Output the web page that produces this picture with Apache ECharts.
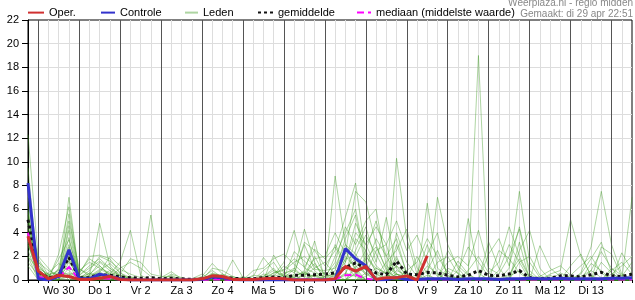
<!DOCTYPE html>
<html><head><meta charset="utf-8">
<script src="https://cdn.jsdelivr.net/npm/echarts@6/dist/echarts.min.js"></script>
<style>html,body{margin:0;padding:0;background:#fff}#c{width:635px;height:300px}</style>
</head><body><div id="c"></div>
<script>
// 6-hourly steps from di 29 apr 18:00 (index 0) to wo 14 mei 12:00 (index 59)
const dayLabels = ['Wo 30','Do 1','Vr 2','Za 3','Zo 4','Ma 5','Di 6','Wo 7','Do 8','Vr 9','Za 10','Zo 11','Ma 12','Di 13'];
const stepCount = 60;

const oper = [3.7,0.75,0.1,0.4,0.3,0.05,0.05,0.15,0.3,0.05, 0,0,0,0,0,0,0, 0.1,0.35,0.3,0.05, 0.05,0.05,0.1,0.15,0.1, 0,0,0,0, 0.1,1.15,0.75,1.15,0.05,0.2,0.2,0.35,0,2.05];

const controle = [8.2,0.1,0,0.3,2.55,0.1,0.1,0.5,0.3,0.1, 0,0,0,0,0,0,0,0.05,0.25,0.2, 0.05,0,0,0,0,0,0,0,0,0, 0.05,2.65,1.8,1.2,0,0.05,0.2,0.05,0.05,0.1, 0.1,0.1,0.05,0.1,0.1,0.1,0.05,0.1,0.1,0.15, 0.1,0.1,0.15,0.1,0.1,0.1,0.1,0.15,0.15,0.2];

const gemiddelde = [5.1,0.7,0.15,0.4,1.9,0.2,0.2,0.45,0.4,0.25, 0.2,0.15,0.2,0.1,0.15,0.1,0.05,0.1,0.25,0.2, 0.15,0.1,0.1,0.2,0.25,0.2,0.4,0.4,0.45,0.5, 0.6,1.05,1.45,1.0,0.6,0.45,1.6,0.5,0.45,0.65, 0.6,0.4,0.25,0.4,0.8,0.4,0.35,0.5,0.8,0.2, 0.1,0.15,0.35,0.35,0.25,0.45,0.65,0.35,0.3,0.5];

const mediaan = [4.0,0.3,0.05,0.2,1.1,0.05,0.05,0.15,0.1,0.05, 0,0,0,0,0,0,0,0,0.05,0.05, 0,0,0,0,0,0,0.05,0.05,0.05,0.05, 0.05,0.4,0.45,0.1,0,0.1,0.2,0.05,0.05,0.05, 0.05,0.05,0.05,0.05,0.05,0.05,0.05,0.05,0.05,0.05, 0.05,0.05,0.05,0.05,0.05,0.05,0.05,0.05,0.05,0.05];

const leden = [
 [12.3,1.8,0.4,0.2,7.0,0.3,0.5,1.2,0.4,0.2,0,0,0, 0,0.2,0,0,0,0.5,0.3,0,0,0,0.2,0.6,0.8,1.5,2.0,1.2, 0.5,8.8,3.0,1.5,0.6,0.3,0,0.5,0.2,0,0.4,0, 0,0,0.5,19.0,0,0,0.3,0.8,0,0,0,0,0,0.3,0.8,0.2,0,0,0],
 [8.0,0.8,0.1,2.2,6.2,0.5,2.0,2.1,1.8,0.6,0.2,0,0, 0,0,0,0,0.3,1.4,0.5,0.2,0,0,0,0,0,0.5,3.2,2.5, 1.2,2.5,5.3,8.2,2.0,1.0,0.5,0,0,0.3,0,0, 2.5,1.2,0.4,0,0.6,1.5,4.5,2.0,0.3,0,0,0,0,0,0,0,0.5,1.2,2.0],
 [7.0,1.5,0.8,0.4,5.6,0.2,0.1,0.3,0.5,1.5,4.2,0.4,0, 0.2,0.7,0.1,0,0,0.3,0,0,0,0.3,1.9,0.8,0.3,0.4,0.6,1.8, 2.0,4.0,2.2,7.5,6.6,3.0,0.8,0.2,0,0,6.5,1.0, 0.3,0,0,0,0,0,1.0,7.5,1.5,0.2,0,0,0,0.6,2.8,7.5,3.0,0.5,0],
 [6.0,0.4,0,1.0,5.0,1.0,0.3,4.8,1.2,0.3,0.1,0,0, 0,0,0,0,0,1.0,0.8,0.3,0,0,0,0.4,1.5,4.2,1.0,0.6, 0.3,1.5,4.5,3.0,5.0,6.0,1.2,0.5,0.3,0,0,0, 0,0.8,2.8,1.5,0.3,0,0,0,0,0,0.5,0.8,5.1,2.0,0.4,0,0,0,0],
 [5.5,0.2,0,0.3,4.2,0.1,0.8,2.0,1.6,0.9,0.5,0.2,5.5, 0,0.5,0.2,0,0.2,0.8,0.2,0,0,0,0,2.1,0.6,0.2,0.8,3.3, 0,0,0.5,2.5,4.5,1.5,5.3,1.0,0,0,0,7.0, 3.0,1.0,0,0,2.2,3.5,1.2,4.5,0.8,0,0,0,0,0,0,1.5,0.6,0,7.0],
 [5.0,2.0,1.0,0.1,3.6,0,0,0.6,2.0,1.2,0.3,0,0, 0,0,0,0,0,0,0,1.7,0.2,0,0,0,0.2,0.9,4.3,1.5, 0,0.8,3.5,5.5,1.0,0.5,0,10.3,3.5,0.5,0,0, 0,0,0,0,0,0,0,0,0,2.9,1.0,0.3,0,0,0,0,0,2.3,0.8],
 [4.5,0.6,0.2,1.8,3.4,0.4,1.2,1.8,1.0,0.5,1.8,1.5,0.5, 0.3,0.3,0,0,0,0,0.5,0,0,0.8,1.0,1.8,2.2,1.3,0.5,0.3, 0.6,3.0,1.5,4.0,3.0,4.5,3.0,5.0,2.5,3.8,1.5,0.3, 1.5,2.0,1.2,4.2,1.0,0.5,2.0,4.3,0.5,0,0,0,0.4,1.2,2.0,0.6,0,0,0],
 [4.0,1.0,0,0.5,3.0,0,0,0.2,0,0,0,0,0, 0,0,0,0,0,0.2,0,0,0,0,0,0,0,0,0.4,1.0, 1.5,0.5,0,0.5,2.0,0.8,0,4.0,1.5,0.3,2.2,4.0, 0,0,0,0,0,0,0,0,0,0,0,0,0,0,0,0,1.0,0.4,0],
 [4.0,0.3,0.5,0,2.6,0.8,1.5,1.0,0.6,0.4,0.2,0.1,0, 0,0,0,0.1,0.5,0,0,0,0.3,0,0.8,1.5,0.2,2.4,1.6,0.8, 0,2.0,4.0,6.0,1.5,0,0,3.0,0.6,0,0,0, 0.8,0,5.2,0.6,0,0,0,1.5,2.0,0.4,0,0,0,0,0,0,0,0,0],
 [3.5,0,0,0.2,2.2,0,0.4,1.5,0.8,0,0,0,0, 0,0,0,0,0,0.6,0.3,0,0,0,0,0,0.5,1.0,0.2,2.0, 0.4,0.3,1.0,1.8,0.4,2.5,3.0,0,0,0.5,3.0,0.5, 0,0.3,0,0,0,2.5,1.8,0.6,0,0,0,0,0,0,0,2.8,2.2,0.3,1.5],
 [3.0,1.2,0.3,0,2.0,0.2,0,0.4,0.2,1.0,1.5,1.0,0.3, 0,0.4,0,0,0,0,0,0,0,0.4,0.3,1.0,0,0,0.6,0.3, 0,0,0,1.2,0.5,0,0,0.3,0,0,0,1.5, 2.0,0.5,0,0,0,0,0,0,0,0,0,0,1.2,2.2,0.3,0,0,0,0],
 [3.0,0.5,0,0.6,1.8,0,0.6,0.2,0,0,0,0,0, 0,0,0,0,0,0,0,0,0,0,0,0,0,0,0,0.5, 0,0,1.8,2.0,3.8,2.2,0.5,0,0,2.0,0.5,0, 0,0,0,0,3.2,1.0,0,0,0,0,0,0,0,0,0,0,0,0,0],
 [2.5,0.2,0.2,0,1.5,0.3,0.2,0.8,1.4,0.6,0,0,0, 0,0,0,0,0,0.4,0,0,0,0,0.5,0.3,1.2,0.6,3.0,0.9, 0.8,1.0,2.5,0.8,0,0.3,1.5,2.5,4.3,1.0,0,0, 0,0,0.8,2.0,0.6,0,0,3.2,0,0,0,0.6,0.2,0,0,0,0,0,0],
 [2.0,0.9,0,0.3,1.2,0,0,0,0,0,0,0,0, 0,0,0,0,0,0,0,0,0,0,0,0,0,0.3,0.7,0, 0,0,0.4,3.5,2.5,0.6,0,0,0,0,0.8,2.5, 0.4,0,0,0,0,0,0,0,0,0,0,0,0,0,1.4,0.8,0,0,0.5],
 [2.0,0,0,0,1.0,0.6,1.8,1.2,0.4,0,0,0,0, 0,0,0,0,0,0.3,0.2,0.3,0,0,0,0.6,0.9,1.8,1.1,2.6, 1.8,2.8,1.2,0.3,0,0,0.4,1.2,0.5,0,0,0, 0,0,0,0,0,0.8,3.0,1.5,0,0,0,0,0,0,0,0,0,0,0],
 [1.5,0.4,0.6,1.4,0.8,0,0,0,0,0.2,0,0,0, 0,0,0,0,0,0,0,0,0,0,0,0,0.4,0.2,0,0, 0,0,0,0.6,1.0,3.5,2.0,0.5,0,0,0,0, 0,1.6,0.5,0,0,0,0,0,0,0,0,0,0,0,0,0,0,0,0],
 [6.5,1.3,0.2,0.4,0.6,0.2,0.3,0.9,0.5,0.2,0,0,0, 0,0,0,0,0,0,0,0,0,0,0,0,0,0,0.5,1.4, 0,1.2,3.0,2.2,0.8,0.2,0,0,0.8,1.5,3.5,2.0, 0.6,0,0,0,0,0,0,2.5,4.2,1.0,0,0,0,0,0,0,0,0,0],
 [5.8,0.7,0,0,0.5,0,0,0.3,0.8,0.4,0.1,0,0, 0,0,0,0,0,0,0,0,0,0,0,0,0,0,0,0, 0,0,0,0,0.3,1.0,0.6,2.0,0,0,0,0, 0,0,0,0,0,0,0,0,0,0,0,0,0,0.5,1.8,3.2,0.6,0,0],
 [4.8,0.1,0.4,0.8,0.4,0.9,0.5,0.5,0,0,0,0,0, 0,0,0,0,0,0,0,0,0.2,0,0,0,0,0,0,0, 0.3,0.5,2.0,1.0,0,0,0,0,0,0,0,0, 0,0,0,0,0,0,0,0,0,0.3,0.8,1.2,0.4,0,0,0,0,0,0],
 [3.8,0.5,0,0,0.3,0,0,0,0,0,0,0,0, 0,0,0,0,0,0,0,0,0,0,0,0,0,0,0,0, 0,0,0,0,0,0,0,0.8,0.4,0,0,0, 0,0,0,0,0,0,0.5,1.8,0.2,0,0,0,0,0,0,0,0,0,0],
 [2.8,1.6,0.1,0.3,0.2,0,0,0.2,0.3,0,0,0,0, 0,0,0,0,0,0,0,0,0,0,0,0,0,0,0,0, 0,0.4,1.5,4.8,3.0,1.2,0.5,0,0,0,1.2,0.5, 0,0,0,0,0,0,0,0,0,0,0,0,0,0,0.8,2.4,1.0,0,0],
 [9.5,0.3,0,0,2.8,0.1,0.2,0.7,0.2,0,0,0,0, 0,0,0,0,0,0,0,0,0,0,0,0,0,0,0,0, 0,0,0.6,0.3,1.8,2.8,1.0,0,0,0,0,0, 1.0,0.6,0,0,0,0,0,0,0,0,0,0,0,0,0,0,0,0,0],
 [1.2,0,0,0.9,0,0,0,0,0,0,0,0,0, 0,0,0,0,0,0,0,0,0,0,0,0,0,0,0,0, 0,0,0,0,0.6,0,0,1.2,0,0,0,0, 0,0,0,0,0,0,0,0,0,0,0.4,0,0,0,0,0,0,0,0],
 [5.2,0.8,0.3,0.2,4.6,0.4,1.0,1.6,1.0,0.3,0,0,0, 0,0,0,0,0,0.5,0.4,0,0,0,0.3,0.8,0.4,0,0,0.4, 0,0,0,1.0,2.5,5.0,2.0,3.5,0.5,0,0,0, 0,0,0,0,0,0,0,0,0,0,0,0,0,0,0,0,0.8,1.5,0.5],
 [3.2,0.2,0,0,0,0,0,0,0,0,0,0,0, 0,0,0,0,0,0,0,0,0,0,0,0,0,0,0,0, 0,0,0,0,0,0,0,0.5,0,0,0,0, 0,0,0,0,0,0,0,0,0,0,0,0,0,0,0,0,0,0,0],
 [4.3,1.0,0.5,0.6,1.6,0.3,0,0.4,0.2,0,0,0,0, 0,0,0,0,0,0,0,0,0,0,0,0.3,0.6,0.8,0.3,0, 0,0.5,1.2,0.6,0,0,0,1.8,0.6,0,0,0, 0,0,0,0,0,0,0,0,0,0,0,0,0,0,0,0,0,0,0]
];

const FONT = '"Liberation Sans", Arial, sans-serif';
const toPairs = a => a.map((v, i) => [i, v]);
// midnight steps (index 0 = 18:00, so every 4th step starting at 1)
const midnights = [];
for (let i = 0; i < stepCount; i++) if ((i - 1) % 4 === 0) midnights.push(i);

const series = [];
leden.forEach((m, k) => {
  const s = {
    name: 'Leden', type: 'line', data: toPairs(m), symbol: 'none', silent: true, z: 2,
    lineStyle: { color: '#3f9a22', width: 1, opacity: 0.42 }, itemStyle: { color: '#3f9a22' }
  };
  if (k === 0) {
    s.markLine = {
      silent: true, symbol: 'none', label: { show: false }, animation: false,
      lineStyle: { color: '#555', width: 1, type: 'solid', opacity: 1 },
      data: midnights.map(x => ({ xAxis: x }))
    };
  }
  series.push(s);
});
series.push({ name: 'mediaan (middelste waarde)', type: 'line', data: toPairs(mediaan), symbol: 'none', z: 3,
  lineStyle: { color: '#ff00ff', width: 2, type: [7, 4] }, itemStyle: { color: '#ff00ff' } });
series.push({ name: 'gemiddelde', type: 'line', data: toPairs(gemiddelde), symbol: 'none', z: 4,
  lineStyle: { color: '#111', width: 3, type: [3, 3], cap: 'butt' }, itemStyle: { color: '#111' } });
series.push({ name: 'Controle', type: 'line', data: toPairs(controle), symbol: 'none', z: 5,
  lineStyle: { color: '#3333cc', width: 3 }, itemStyle: { color: '#3333cc' } });
series.push({ name: 'Oper.', type: 'line', data: toPairs(oper), symbol: 'none', z: 6,
  lineStyle: { color: '#d03030', width: 3 }, itemStyle: { color: '#d03030' } });

const legendBase = { top: 7, itemHeight: 14, selectedMode: false, padding: 0,
  itemStyle: { opacity: 0, borderWidth: 0 },
  textStyle: { fontSize: 11, color: '#000', fontFamily: FONT } };
const legends = [
  { name: 'Oper.', left: 27, w: 16 },
  { name: 'Controle', left: 100, w: 14 },
  { name: 'Leden', left: 184, w: 13 },
  { name: 'gemiddelde', left: 257, w: 15 },
  { name: 'mediaan (middelste waarde)', left: 356, w: 14 }
].map(l => Object.assign({}, legendBase, { left: l.left, itemWidth: l.w, data: [{ name: l.name }] }));

const chart = echarts.init(document.getElementById('c'), null, { renderer: 'canvas' });
chart.setOption({
  animation: false,
  backgroundColor: '#fff',
  textStyle: { fontFamily: FONT },
  grid: { left: 28, right: 1, top: 20, bottom: 20, show: true, borderColor: '#000', borderWidth: 1, backgroundColor: 'transparent' },
  legend: legends,
  graphic: [
    { type: 'text', x: 633, y: 3, style: { text: 'Weerplaza.nl - regio midden', fill: '#888', font: '10px ' + FONT, textAlign: 'right', textVerticalAlign: 'middle' } },
    { type: 'text', x: 633, y: 14, style: { text: 'Gemaakt: di 29 apr 22:51', fill: '#888', font: '10px ' + FONT, textAlign: 'right', textVerticalAlign: 'middle' } }
  ],
  xAxis: {
    type: 'value', min: 0, max: stepCount - 1, interval: 1,
    axisLine: { lineStyle: { color: '#000', width: 1 } },
    axisTick: { show: true, length: 3, lineStyle: { color: '#000' } },
    axisLabel: { fontSize: 11, color: '#000', margin: 5, fontFamily: FONT,
      formatter: v => ((v - 3) % 4 === 0 && dayLabels[(v - 3) / 4]) || '' },
    splitLine: { show: true, showMinLine: false, showMaxLine: false, lineStyle: { color: '#ddd', width: 1 } }
  },
  yAxis: {
    type: 'value', min: 0, max: 22, interval: 2,
    axisLine: { show: true, lineStyle: { color: '#000', width: 1 } },
    axisTick: { show: true, length: 6, lineStyle: { color: '#000' } },
    axisLabel: { fontSize: 11, color: '#000', margin: 9, fontFamily: FONT },
    splitLine: { show: true, showMinLine: false, showMaxLine: false, lineStyle: { color: '#ddd', width: 1 } }
  },
  series: series
});
</script></body></html>
